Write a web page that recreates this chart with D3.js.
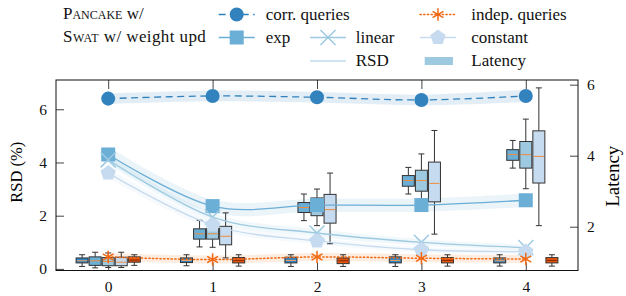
<!DOCTYPE html>
<html>
<head>
<meta charset="utf-8">
<script src="https://cdn.jsdelivr.net/npm/d3@7.9.0/dist/d3.min.js"></script>
<style>
  html, body { margin: 0; padding: 0; background: #fff; }
  svg { display: block; font-family: "Liberation Serif", "Times New Roman", serif; }
</style>
</head>
<body>
<svg id="chart" width="626" height="296"></svg>
<script>
const steps = [0, 1, 2, 3, 4];
const rsdTicks = [0, 2, 4, 6];
const latencyTicks = [2, 4, 6];

// RSD (%) per step
const corrRsd = [6.4, 6.5, 6.45, 6.35, 6.5];
const expRsd = [4.3, 2.36, 2.4, 2.4, 2.58];
const linearRsd = [4.1, 1.95, 1.35, 1.0, 0.8];
const constantRsd = [3.6, 1.65, 1.05, 0.72, 0.65];
const indepRsd = [0.45, 0.35, 0.45, 0.4, 0.37];

// half width of the shaded band round each line
const corrBand = [0.2, 0.2, 0.2, 0.2, 0.23];
const expBand = [0.3, 0.25, 0.25, 0.25, 0.25];
const linearBand = [0.18, 0.15, 0.15, 0.12, 0.1];
const constantBand = [0.18, 0.15, 0.12, 0.1, 0.1];
const indepBand = [0.15, 0.15, 0.15, 0.15, 0.15];

// latency boxes: [low whisker, q1, median, q3, high whisker]
const corrLatency = [
  [0.88, 0.98, 1.04, 1.12, 1.21],
  [0.9, 0.99, 1.05, 1.12, 1.21],
  [0.88, 0.98, 1.05, 1.14, 1.21],
  [0.88, 0.98, 1.05, 1.15, 1.21],
  [0.89, 0.98, 1.04, 1.12, 1.21],
];
const expLatency = [
  [0.84, 0.91, 1.04, 1.15, 1.28],
  [1.43, 1.65, 1.8, 1.94, 2.18],
  [2.17, 2.4, 2.54, 2.68, 2.92],
  [2.92, 3.14, 3.3, 3.44, 3.67],
  [3.65, 3.87, 4.03, 4.17, 4.43],
];
const linearLatency = [
  [0.85, 0.9, 1.02, 1.13, 1.26],
  [1.42, 1.65, 1.8, 1.95, 2.2],
  [2.03, 2.31, 2.54, 2.81, 3.06],
  [2.48, 3.0, 3.3, 3.59, 4.05],
  [3.07, 3.65, 4.03, 4.4, 5.03],
];
const constantLatency = [
  [0.85, 0.9, 1.0, 1.14, 1.28],
  [1.12, 1.49, 1.73, 2.01, 2.39],
  [1.52, 2.1, 2.48, 2.91, 3.51],
  [1.79, 2.7, 3.22, 3.82, 4.71],
  [2.03, 3.23, 3.98, 4.7, 5.91],
];
const indepLatency = [
  [0.91, 1.0, 1.06, 1.15, 1.21],
  [0.89, 0.98, 1.05, 1.13, 1.21],
  [0.88, 0.96, 1.04, 1.12, 1.21],
  [0.89, 0.98, 1.05, 1.13, 1.21],
  [0.89, 0.98, 1.05, 1.13, 1.21],
];

const series = [
  { name: "corr. queries", rsd: corrRsd, band: corrBand, latency: corrLatency,
    offset: -0.25, color: "#3182bd", fill: "#3182bd", dash: "7,4.5", marker: "circle", median: "#f4a261" },
  { name: "exp", rsd: expRsd, band: expBand, latency: expLatency,
    offset: -0.125, color: "#6baed6", fill: "#6baed6", dash: null, marker: "square", median: "#f08c3a" },
  { name: "linear", rsd: linearRsd, band: linearBand, latency: linearLatency,
    offset: 0, color: "#9ecae1", fill: "#9ecae1", dash: null, marker: "x", median: "#f08c3a" },
  { name: "constant", rsd: constantRsd, band: constantBand, latency: constantLatency,
    offset: 0.125, color: "#c6dbef", fill: "#c6dbef", dash: null, marker: "pentagon", median: "#f08c3a" },
  { name: "indep. queries", rsd: indepRsd, band: indepBand, latency: indepLatency,
    offset: 0.25, color: "#f16913", fill: "#e6550d", dash: "1.3,2.4", marker: "asterisk", median: "#7f2704" },
];

const serif = "Liberation Serif, Times New Roman, serif";
const plotLeft = 56, plotRight = 578, plotTop = 80, plotBottom = 270.5;

const x = d3.scaleLinear().domain([-0.5, 4.5]).range([plotLeft, plotRight]);
const yRsd = d3.scaleLinear().domain([-0.06, 7.1]).range([plotBottom, plotTop]);
const yLat = d3.scaleLinear().domain([0.766, 6.132]).range([plotBottom, plotTop]);

const svg = d3.select("#chart");
const curve = d3.curveCardinal.tension(0);

function pentagon(r) {
  const pts = d3.range(5).map((k) => {
    const a = -Math.PI / 2 + (k * 2 * Math.PI) / 5;
    return [r * Math.cos(a), r * Math.sin(a)];
  });
  return "M" + pts.map((p) => p.join(",")).join("L") + "Z";
}

function markerPath(type) {
  if (type === "circle") return d3.symbol(d3.symbolCircle, 154)();
  if (type === "square") return d3.symbol(d3.symbolSquare, 196)();
  if (type === "x") return d3.symbol(d3.symbolX, 150)();
  if (type === "asterisk") return d3.symbol(d3.symbolAsterisk, 110)();
  return pentagon(8);
}

function drawMarker(g, s, cx, cy) {
  const stroked = s.marker === "x" || s.marker === "asterisk";
  g.append("path")
    .attr("d", markerPath(s.marker))
    .attr("transform", `translate(${cx},${cy})`)
    .attr("fill", stroked ? "none" : s.color)
    .attr("stroke", stroked ? s.color : "none")
    .attr("stroke-width", 1.5);
}

// bands
const bandLayer = svg.append("g");
series.forEach((s) => {
  const area = d3.area()
    .x((d, i) => x(steps[i]))
    .y0((d, i) => yRsd(d - s.band[i]))
    .y1((d, i) => yRsd(d + s.band[i]))
    .curve(curve);
  bandLayer.append("path")
    .attr("d", area(s.rsd))
    .attr("fill", s.color)
    .attr("fill-opacity", s.marker === "asterisk" ? 0.13 : 0.14);
});

// ticks
const fmt = d3.format("d");
svg.append("g")
  .attr("transform", `translate(${plotLeft},0)`)
  .call(d3.axisLeft(yRsd).tickValues(rsdTicks).tickFormat(fmt).tickSize(-8).tickPadding(9))
  .call((g) => g.select(".domain").remove());
svg.append("g")
  .attr("transform", `translate(${plotRight},0)`)
  .call(d3.axisRight(yLat).tickValues(latencyTicks).tickFormat(fmt).tickSize(-8).tickPadding(9))
  .call((g) => g.select(".domain").remove());
svg.append("g")
  .attr("transform", `translate(0,${plotBottom})`)
  .call(d3.axisBottom(x).tickValues(steps).tickFormat(fmt).tickSize(-8).tickPadding(10))
  .call((g) => g.select(".domain").remove());
svg.append("g")
  .attr("transform", `translate(0,${plotTop})`)
  .call(d3.axisTop(x).tickValues(steps).tickSize(-9).tickFormat(""))
  .call((g) => g.select(".domain").remove());

svg.selectAll(".tick line").attr("stroke", "#444");
svg.selectAll(".tick text")
  .attr("font-family", serif)
  .attr("font-size", 15.5)
  .attr("fill", "#111");

// latency boxes
const boxW = x(0.115) - x(0);
const boxLayer = svg.append("g").attr("stroke", "#333").attr("stroke-width", 1);
series.forEach((s) => {
  s.latency.forEach((b, i) => {
    const cx = x(steps[i] + s.offset);
    const [lo, q1, med, q3, hi] = b.map((v) => yLat(v));
    const g = boxLayer.append("g");
    g.append("line").attr("x1", cx).attr("x2", cx).attr("y1", lo).attr("y2", q1);
    g.append("line").attr("x1", cx).attr("x2", cx).attr("y1", q3).attr("y2", hi);
    g.append("line").attr("x1", cx - boxW / 4).attr("x2", cx + boxW / 4).attr("y1", lo).attr("y2", lo);
    g.append("line").attr("x1", cx - boxW / 4).attr("x2", cx + boxW / 4).attr("y1", hi).attr("y2", hi);
    g.append("rect")
      .attr("x", cx - boxW / 2).attr("width", boxW)
      .attr("y", q3).attr("height", q1 - q3)
      .attr("fill", s.fill);
    g.append("line")
      .attr("x1", cx - boxW / 2 + 1).attr("x2", cx + boxW / 2 - 1)
      .attr("y1", med).attr("y2", med)
      .attr("stroke", s.median);
  });
});

// RSD lines and markers
const lineLayer = svg.append("g");
series.forEach((s) => {
  const line = d3.line().x((d, i) => x(steps[i])).y((d) => yRsd(d)).curve(curve);
  lineLayer.append("path")
    .attr("d", line(s.rsd))
    .attr("fill", "none")
    .attr("stroke", s.color)
    .attr("stroke-width", s.marker === "asterisk" ? 1.5 : 1.3)
    .attr("stroke-linecap", s.marker === "asterisk" ? "round" : "butt")
    .attr("stroke-dasharray", s.dash);
});
series.forEach((s) => {
  s.rsd.forEach((v, i) => drawMarker(lineLayer, s, x(steps[i]), yRsd(v)));
});

// frame
svg.append("rect")
  .attr("x", plotLeft).attr("y", plotTop)
  .attr("width", plotRight - plotLeft).attr("height", plotBottom - plotTop)
  .attr("fill", "none").attr("stroke", "#111").attr("stroke-width", 1);

// axis titles
svg.append("text")
  .attr("transform", `translate(22,${(plotTop + plotBottom) / 2 - 3}) rotate(-90)`)
  .attr("text-anchor", "middle")
  .attr("font-family", serif)
  .attr("font-size", 16.5)
  .text("RSD (%)");
svg.append("text")
  .attr("transform", `translate(619,${(plotTop + plotBottom) / 2 + 1}) rotate(-90)`)
  .attr("text-anchor", "middle")
  .attr("font-family", serif)
  .attr("font-size", 19)
  .text("Latency");

// legend
const legend = svg.append("g")
  .attr("font-family", serif)
  .attr("font-size", 17)
  .attr("fill", "#111");
const t1 = legend.append("text").attr("x", 63).attr("y", 19);
t1.append("tspan").attr("font-variant", "small-caps").text("Pancake");
t1.append("tspan").text(" w/");
const t2 = legend.append("text").attr("x", 63).attr("y", 42);
t2.append("tspan").attr("font-variant", "small-caps").attr("letter-spacing", 0.5).text("Swat");
t2.append("tspan").attr("letter-spacing", 0.4).text(" w/ weight upd");

const legendItems = [
  { s: series[0], cx: 236.7, cy: 14.5, tx: 265.7 },
  { s: series[4], cx: 438, cy: 14.5, tx: 471.3 },
  { s: series[1], cx: 236.7, cy: 37.5, tx: 265.7 },
  { s: series[2], cx: 328, cy: 37.5, tx: 355.7 },
  { s: series[3], cx: 438, cy: 37.5, tx: 471.3 },
];
legendItems.forEach(({ s, cx, cy, tx }) => {
  legend.append("line")
    .attr("x1", cx - 18).attr("x2", cx + 18).attr("y1", cy).attr("y2", cy)
    .attr("stroke", s.color)
    .attr("stroke-width", s.marker === "asterisk" ? 1.5 : 1.3)
    .attr("stroke-linecap", s.marker === "asterisk" ? "round" : "butt")
    .attr("stroke-dasharray", s.dash);
  drawMarker(legend, s, cx, cy);
  legend.append("text").attr("x", tx).attr("y", cy + 5).text(s.name);
});
legend.append("line")
  .attr("x1", 310).attr("x2", 346).attr("y1", 61).attr("y2", 61)
  .attr("stroke", "#9ecae1").attr("stroke-width", 1);
legend.append("text").attr("x", 355.7).attr("y", 66).text("RSD");
legend.append("rect")
  .attr("x", 424.7).attr("y", 57).attr("width", 28.3).attr("height", 8)
  .attr("fill", "#9ecae1");
legend.append("text").attr("x", 471.3).attr("y", 66).text("Latency");
</script>
</body>
</html>
